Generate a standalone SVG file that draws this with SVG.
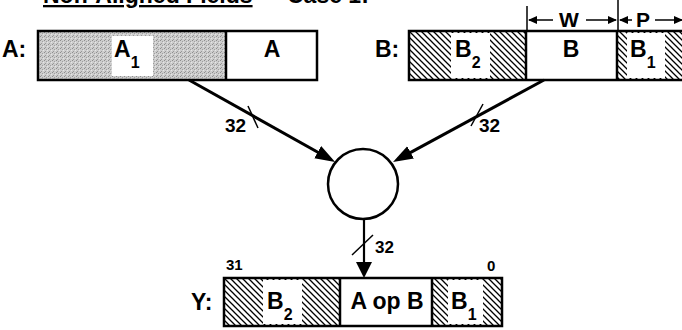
<svg xmlns="http://www.w3.org/2000/svg" width="682" height="330" viewBox="0 0 682 330">
<defs>
<style>
text{font-family:"Liberation Sans",Arial,Helvetica,sans-serif;font-weight:bold;fill:#000}
.lbl{font-size:23px}
.sub{font-size:16px}
.dim{font-size:21px}
.bits{font-size:15px}
.box{fill:none;stroke:#000;stroke-width:2.5}
.div{stroke:#000;stroke-width:2.5}
.wire{stroke:#000;stroke-width:3;fill:none}
.thin{stroke:#000;stroke-width:1.5;fill:none}
.white{fill:#fff}
</style>
<pattern id="hatch" width="6" height="6" patternUnits="userSpaceOnUse">
<rect width="6" height="6" fill="#fff"/>
<path d="M-1,-1 L7,7 M-1,5 L1,7 M5,-1 L7,1" stroke="#000" stroke-width="1.3"/>
</pattern>
<pattern id="grey" width="4" height="4" patternUnits="userSpaceOnUse">
<rect width="4" height="4" fill="#cdcdcd"/>
<rect x="0" y="0" width="1" height="1" fill="#8e8e8e"/>
<rect x="2" y="1" width="1" height="1" fill="#a0a0a0"/>
<rect x="1" y="3" width="1" height="1" fill="#9a9a9a"/>
<rect x="3" y="2" width="1" height="1" fill="#e6e6e6"/>
</pattern>
<marker id="ah" markerUnits="userSpaceOnUse" markerWidth="22" markerHeight="16" refX="15" refY="7" orient="auto">
<path d="M0,0 L20,7 L0,14 z" fill="#000"/>
</marker>
<marker id="ah2" markerUnits="userSpaceOnUse" markerWidth="18" markerHeight="18" refX="13" refY="8" orient="auto">
<path d="M0,0 L16,8 L0,16 z" fill="#000"/>
</marker>
<marker id="dh" markerUnits="userSpaceOnUse" markerWidth="10" markerHeight="8" refX="8" refY="4" orient="auto">
<path d="M0,0 L9,4 L0,8 z" fill="#000"/>
</marker>
</defs>

<g id="title">
<text x="43" y="3" class="lbl" text-decoration="underline">Non-Aligned Fields</text>
<text x="287" y="3" class="lbl">Case 1:</text>
</g>

<g id="nodeA">
<text x="2" y="57" class="lbl">A:</text>
<rect x="38" y="31" width="188" height="49" fill="url(#grey)"/>
<rect x="112" y="36" width="41" height="40" class="white"/>
<rect x="226" y="31" width="91" height="49" class="white"/>
<rect x="38" y="31" width="279" height="49" class="box"/>
<line x1="226" y1="31" x2="226" y2="80" class="div"/>
<text x="114" y="57" class="lbl">A<tspan class="sub" dy="11">1</tspan></text>
<text x="272" y="57" class="lbl" text-anchor="middle">A</text>
</g>

<g id="nodeB">
<text x="375" y="57" class="lbl">B:</text>
<rect x="409" y="31" width="117" height="49" fill="url(#hatch)"/>
<rect x="451" y="33" width="39" height="45" class="white"/>
<rect x="526" y="31" width="91" height="49" class="white"/>
<rect x="617" y="31" width="80" height="49" fill="url(#hatch)"/>
<rect x="627" y="33" width="38" height="45" class="white"/>
<rect x="409" y="31" width="290" height="49" class="box"/>
<line x1="526" y1="31" x2="526" y2="80" class="div"/>
<line x1="617" y1="31" x2="617" y2="80" class="div"/>
<text x="455" y="57" class="lbl">B<tspan class="sub" dy="11">2</tspan></text>
<text x="571" y="57" class="lbl" text-anchor="middle">B</text>
<text x="630" y="57" class="lbl">B<tspan class="sub" dy="11">1</tspan></text>
</g>

<g id="dimensions">
<line x1="527" y1="6" x2="527" y2="31" class="thin"/>
<line x1="618" y1="0" x2="618" y2="31" class="thin"/>
<line x1="553" y1="20" x2="529" y2="20" class="thin" marker-end="url(#dh)"/>
<text x="569" y="27" class="dim" text-anchor="middle">W</text>
<line x1="586" y1="20" x2="616" y2="20" class="thin" marker-end="url(#dh)"/>
<line x1="632" y1="20" x2="620" y2="20" class="thin" marker-end="url(#dh)"/>
<text x="643" y="27" class="dim" text-anchor="middle">P</text>
<line x1="655" y1="20" x2="682" y2="20" class="thin" marker-end="url(#dh)"/>
</g>

<g id="op">
<circle cx="363" cy="184" r="35" fill="#fff" stroke="#000" stroke-width="2.5"/>
</g>

<g id="nodeY">
<text x="191" y="310" class="lbl">Y:</text>
<rect x="224" y="278" width="116" height="48" fill="url(#hatch)"/>
<rect x="263" y="280" width="39" height="44" class="white"/>
<rect x="340" y="278" width="92" height="48" class="white"/>
<rect x="432" y="278" width="70" height="48" fill="url(#hatch)"/>
<rect x="448" y="280" width="35" height="44" class="white"/>
<rect x="224" y="278" width="278" height="48" class="box"/>
<line x1="340" y1="278" x2="340" y2="326" class="div"/>
<line x1="432" y1="278" x2="432" y2="326" class="div"/>
<text x="267" y="309" class="lbl">B<tspan class="sub" dy="11">2</tspan></text>
<text x="387" y="309" class="lbl" text-anchor="middle">A op B</text>
<text x="451" y="309" class="lbl">B<tspan class="sub" dy="11">1</tspan></text>
<text x="226" y="270" class="bits">31</text>
<text x="487" y="271" class="bits">0</text>
</g>

<g id="connectors">
<line x1="189" y1="80" x2="330.8" y2="159.5" class="wire" marker-end="url(#ah)"/>
<line x1="248" y1="106" x2="258" y2="128" class="thin"/>
<text x="225" y="132" style="font-size:19px">32</text>
<line x1="544" y1="80" x2="397.4" y2="159.6" class="wire" marker-end="url(#ah)"/>
<line x1="471" y1="126" x2="483" y2="104" class="thin"/>
<text x="479" y="132" style="font-size:19px">32</text>
<line x1="364" y1="219" x2="364" y2="275" stroke="#000" stroke-width="2.2" marker-end="url(#ah2)"/>
<line x1="352" y1="255" x2="373" y2="235" class="thin"/>
<text x="375" y="253" style="font-size:17px">32</text>
</g>
</svg>
